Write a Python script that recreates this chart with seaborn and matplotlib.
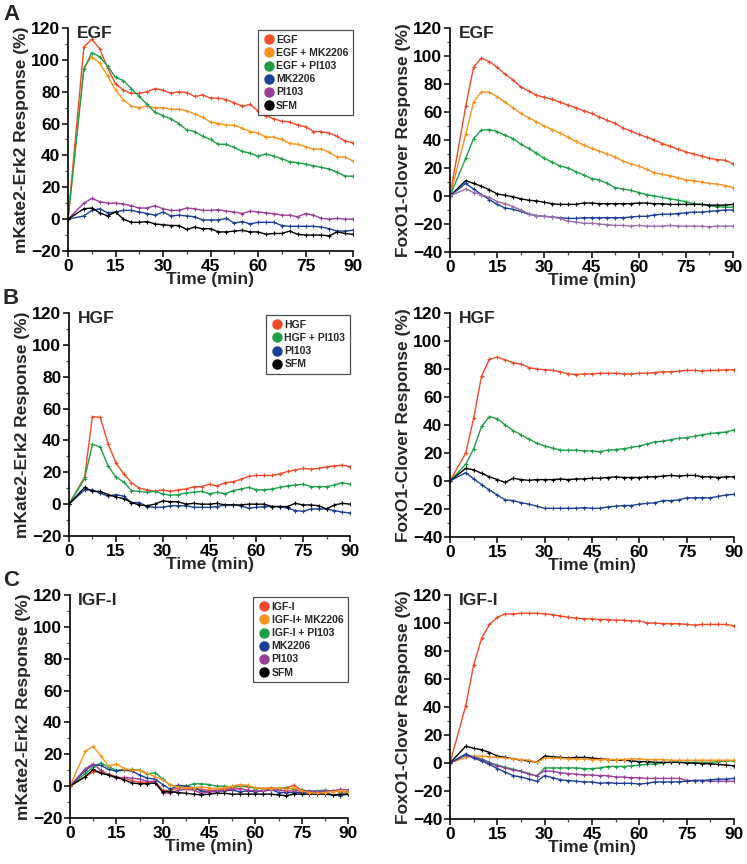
import numpy as np
import pandas as pd
import matplotlib
matplotlib.use("Agg")
import matplotlib.pyplot as plt
from matplotlib.lines import Line2D
from matplotlib.ticker import MultipleLocator
import seaborn as sns

# time points (min)
time = [0] + list(np.arange(5, 90.1, 2.5))

# ---- A: EGF ----
a_erk_egf = [0, 108, 113, 107, 95, 85, 81, 79, 79, 80, 82, 81, 79, 80, 79.5, 77, 78, 76, 76, 75, 73, 71, 72, 68,
             65, 63, 61.5, 61, 59, 58, 55, 55, 54, 52, 49, 48]
a_erk_egf_mk = [0, 95, 102, 98, 90, 81, 75, 71, 70, 71, 70, 70, 69, 69, 68, 66, 64, 61, 60, 59, 59, 57, 55, 54,
                51.5, 51.5, 50, 47.5, 47, 45.5, 44, 44, 42, 39, 39, 36.5]
a_erk_egf_pi = [0, 94, 104.5, 102, 96, 89, 87, 82, 77, 72, 67, 65, 63, 60, 56, 55, 52, 50, 47, 47, 45, 42.5, 41.5,
                39.5, 41, 39.5, 38, 36, 35.5, 34.5, 33.5, 32.5, 31.5, 29.5, 27, 27]
a_erk_mk = [0, 2, 5.5, 6.5, 4, 4.5, 5.5, 5.5, 4.5, 3.5, 2.5, 4.5, 2, 2.5, 2, 1.5, -0.5, -0.5, -0.5, 0.5, -2.5, -1.5,
            -3, -2, -2, -2, -4, -4.5, -4.5, -4.5, -4.5, -5, -6, -7.5, -7.5, -7]
a_erk_pi = [0, 10, 13, 11, 10, 10, 9.5, 8.5, 7, 7, 8.5, 6.5, 5.5, 5.5, 7, 6.5, 5.5, 5.5, 6, 5, 4.5, 3.5, 5, 4.5, 4,
            3.5, 2.5, 2.5, 1.5, 3.5, 2.5, 0.5, 0, 0.5, 0, 0]
a_erk_sfm = [0, 6.5, 7, 4, 2, 4.5, 0, -2, -2, -1.5, -3, -3.5, -4, -4, -6.5, -5, -6, -6, -8, -8, -7.5, -7, -8, -8,
             -9.5, -9, -9, -7.5, -9.5, -10, -10, -10, -10.5, -8, -9, -9.5]

a_fox_egf = [0, 64, 92, 98.5, 96, 92, 87, 83, 78, 75, 72, 70.5, 69, 67, 65, 63, 61, 59, 56.5, 54, 52, 48.5, 46.5,
             44, 42, 40, 37.5, 35.5, 33.5, 31.5, 30, 28.5, 27, 26, 25.5, 23]
a_fox_egf_mk = [0, 44, 67, 74.5, 74, 71, 67, 63, 59, 56, 53, 50, 47.5, 45, 42, 39, 36.5, 34, 32, 30, 28, 25, 23,
                21.5, 19, 16.5, 15.5, 14.5, 13, 11.5, 11, 10, 9, 8.5, 7.5, 6]
a_fox_egf_pi = [0, 27, 41, 47, 47.5, 46, 43.5, 41, 37, 34, 30.5, 27, 24, 21.5, 20, 17.5, 15, 12.5, 11.5, 9, 6, 5, 4,
                2.5, 1, 0, -1, -2, -3, -4, -5.5, -6, -7, -7.5, -8, -8]
a_fox_mk = [0, 9, 5, 1, -2.5, -6, -8.5, -9.5, -11, -13, -14, -14.5, -15, -15.5, -16, -16, -15.5, -15.5, -15.5, -15.5,
            -15.5, -15.5, -15, -14.5, -14.5, -13.5, -13, -13, -12.5, -12, -11.5, -11.5, -11, -10.5, -10, -10]
a_fox_pi = [0, 5, 2.5, 1, -1, -4, -5.5, -7.5, -10, -12.5, -14, -14.5, -15, -16, -18, -18.5, -19.5, -19.5, -20, -20.5,
            -21, -21, -21.5, -21, -21.5, -21.5, -21.5, -21, -21.5, -21.5, -21.5, -21.5, -22, -21.5, -21.5, -21.5]
a_fox_sfm = [0, 11, 9, 7, 4.5, 1.5, 0.5, -0.5, -2, -3, -3.5, -4.5, -5.5, -6, -6, -6, -5, -5, -5.5, -5.5, -5.5, -5.5,
             -5.5, -5, -5, -5.5, -5.5, -6, -6, -6, -6, -6, -6.5, -6.5, -6.5, -6]

# ---- B: HGF ----
b_erk_hgf = [0, 17, 55, 54.5, 38, 26, 19, 13.5, 10, 9, 8, 9, 8, 9, 9.5, 11, 11, 12.5, 11.5, 13.5, 14, 15.5, 17.5,
             18, 18, 18, 19, 20.5, 21.5, 22.5, 22, 22.5, 23.5, 24, 24.5, 23.5]
b_erk_hgf_pi = [0, 16, 37.5, 36, 24, 17, 14, 8.5, 8, 7.5, 8, 6.5, 5.5, 6, 7, 7.5, 8, 6.5, 7.5, 6.5, 8.5, 9.5, 10.5,
                9, 9, 9.5, 10.5, 11.5, 12, 12.5, 11, 11, 11, 12, 13.5, 12.5]
b_erk_pi = [0, 9, 9, 7, 5, 6, 5, 1, 1, -1.5, -2, -2, -1, -1, -1, -2, -2, -2, -1.5, -0.5, -0.5, -1, -2.5, -2, -1.5,
            -1.5, -1.5, -2.5, -4, -4.5, -3, -3, -3, -4, -5, -5.5]
b_erk_sfm = [0, 10.5, 8, 8, 6, 4.5, 3.5, 1, -0.5, -1, 0, 2, 1.5, 1.5, 0, 0.5, 0, 0, 0.5, -0.5, -0.5, -0.5, 0, 0, 0,
             -1.5, -1.5, -1.5, 0.5, -0.5, -0.5, -1, -3, -0.5, 0.5, 0]

b_fox_hgf = [0, 20, 45, 75, 87, 88.5, 86.5, 84.5, 83.5, 81, 80, 79.5, 79, 78, 76.5, 76, 76.5, 76.5, 77, 77, 77, 76.5,
             76.5, 77, 77, 77.5, 78, 78, 78.5, 79, 79, 78.5, 79, 79, 79.5, 79.5]
b_fox_hgf_pi = [0, 12, 23, 39, 46, 44.5, 40, 36, 33, 30, 27, 25, 23.5, 22, 22, 22, 21.5, 21.5, 21, 22, 22.5, 23, 24,
                25, 26.5, 28, 28.5, 29.5, 30.5, 31, 32, 33, 34, 34.5, 35, 36.5]
b_fox_pi = [0, 6, 1.5, -2.5, -6.5, -10, -13.5, -14, -15.5, -16.5, -18, -19.5, -19.5, -19.5, -19.5, -19.5, -19, -19.5,
            -19.5, -18.5, -18, -17.5, -17.5, -16.5, -16, -15.5, -14, -14, -13.5, -12, -12, -12, -12, -11, -10, -9.5]
b_fox_sfm = [0, 9, 8, 5.5, 3, 1, -1, 2, 1, 0.5, 1, 1, 1, 1.5, 1, 1.5, 1.5, 2, 2, 2.5, 3, 2.5, 2.5, 2.5, 3, 3, 3.5, 4,
             3.5, 4, 4, 3, 3, 2.5, 3, 3]

# ---- C: IGF-I ----
c_erk_igf = [0, 6, 9, 9, 7.5, 6, 5, 3.5, 2.5, 2.5, 3, -2.5, -3, -1, -1, -1.5, -2, -2.5, -2.5, -1.5, -1, 0, -0.5, -1,
             -1.5, -1, -1.5, -1, 0.5, -2.5, -3.5, -3.5, -3, -3, -3.5, -3.5]
c_erk_igf_mk = [0, 22, 25, 19, 12.5, 14, 11, 10, 10, 8, 6, 4, 1, -0.5, -1, -1, -0.5, -1, -1.5, -1, 0, 1, 0.5, -1,
                -1.5, -1.5, -1, -2, -1, -3, -4, -4.5, -4, -3.5, -3, -3.5]
c_erk_igf_pi = [0, 8, 12, 14.5, 12, 10, 10.5, 10.5, 10, 7.5, 8.5, 4.5, 0.5, 0, 0, 1.5, 1.5, 1, 0, 0, -0.5, 0, 0,
                -1.5, -1.5, -2, -1.5, -1, -2, -2.5, -3, -3, -2.5, -3, -3.5, -3.5]
c_erk_mk = [0, 10, 13.5, 13, 10.5, 9.5, 10, 9.5, 7, 5, 4.5, 1, -2, 0.5, 0, -1, -3, -3.5, -3, -3, -2.5, -3.5, -3,
            -3.5, -3, -2, -4, -4, -4, -4, -4, -4, -4, -5.5, -6, -5]
c_erk_pi = [0, 11, 14, 10, 7, 5, 5.5, 5, 4.5, 3, 3, -4, -4.5, -2.5, -2, -2.5, -4.5, -3.5, -3.5, -2.5, -2, -1.5,
            -2.5, -3, -3, -2.5, -2.5, -3, -3, -3, -3, -3.5, -3, -3, -2, -2.5]
c_erk_sfm = [0, 6, 10.5, 8, 7, 5.5, 4, 2, 1.5, 1.5, 2, -3.5, -3.5, -4, -4.5, -5, -5.5, -5, -4.5, -4.5, -5, -5, -5,
             -5, -5, -5, -5.5, -6, -5, -5, -5, -5, -5, -5.5, -5, -5]

c_fox_igf = [0, 41, 70, 89, 99, 104, 106.5, 106.5, 107, 107, 107, 106.5, 106, 105, 104, 103.5, 103, 103, 102.5,
             102.5, 102, 102, 101.5, 101.5, 100, 100, 99.5, 99.5, 99.5, 99, 98.5, 99, 99, 99, 99, 98]
c_fox_igf_mk = [0, 4, 5, 5, 4.5, 4, 3.5, 3, 2.5, 2, 0.5, 3.5, 3.5, 3.5, 3, 3, 3, 2.5, 2.5, 2.5, 2.5, 2.5, 3, 3, 2.5,
                2.5, 2.5, 2, 2, 2, 2, 2, 2, 2, 2, 2]
c_fox_igf_pi = [0, 6, 4.5, 3, 0.5, -1.5, -3, -4.5, -6, -7.5, -9.5, -3.5, -3.5, -3.5, -3.5, -3.5, -4, -4, -3.5,
                -2.5, -2.5, -2.5, -2, -1.5, -1, -0.5, 0, 0.5, 0.5, 0.5, 0.5, 0.5, 0.5, 1, 1.5, 1.5]
c_fox_mk = [0, 6.5, 3.5, 1.5, -1, -4, -6.5, -9, -10, -11.5, -13, -9, -10.5, -12, -12.5, -13, -13.5, -13.5, -14.5,
            -14, -14.5, -14.5, -14.5, -15, -14.5, -13.5, -13.5, -13.5, -13.5, -13, -12.5, -12.5, -12, -11.5, -11.5, -11]
c_fox_pi = [0, 5.5, 4, 2.5, 0, -2, -3.5, -5, -6, -8, -9, -5.5, -6, -7, -7.5, -8, -8.5, -8.5, -9, -9, -10, -10,
            -10.5, -10.5, -11, -11, -11, -11, -11, -12.5, -12.5, -12.5, -13, -13, -13, -13]
c_fox_sfm = [0, 12, 10.5, 9.5, 7.5, 5, 4, 3, 2, 1.5, 0.5, 5, 4.5, 4, 3.5, 4, 4, 3.5, 3, 2.5, 2, 2, 1.5, 1, 1, 0.5,
             0.5, 0.5, 0.5, 0, 0, -0.5, -0.5, -1, -1.5, -2]

RED = "#EE4B2B"
ORANGE = "#F7931E"
GREEN = "#1F9E4A"
BLUE = "#1D3F94"
PURPLE = "#9A3E9C"
MAUVE = "#9C6EAA"
BLACK = "#000000"

sns.set_style("ticks")
plt.rcParams["font.family"] = ["Liberation Sans", "DejaVu Sans"]
plt.rcParams["font.weight"] = "bold"

fig = plt.figure(figsize=(7.47, 8.64), dpi=100)

W = 747.0
H = 864.0


def make_ax(x0, x1, ytop, ybot):
    return fig.add_axes([x0 / W, 1 - ybot / H, (x1 - x0) / W, (ybot - ytop) / H])


def style(ax, ylow, ylabel, title):
    ax.set_xlim(0, 90)
    ax.set_ylim(ylow, 120)
    ax.xaxis.set_major_locator(MultipleLocator(15))
    ax.xaxis.set_minor_locator(MultipleLocator(7.5))
    ax.yaxis.set_major_locator(MultipleLocator(20))
    ax.yaxis.set_minor_locator(MultipleLocator(10))
    for s in ["top", "right"]:
        ax.spines[s].set_visible(False)
    for s in ["left", "bottom"]:
        ax.spines[s].set_linewidth(1.2)
        ax.spines[s].set_color("black")
    ax.tick_params(which="major", length=4, width=1.1, labelsize=12.5, pad=1.5, colors="black")
    ax.tick_params(which="minor", length=2.5, width=0.9, colors="#444444")
    for lab in ax.get_xticklabels() + ax.get_yticklabels():
        lab.set_fontweight("bold")
    ax.set_xlabel("Time (min)", fontsize=12.5, fontweight="bold", labelpad=-1)
    ax.set_ylabel(ylabel, fontsize=12.5, fontweight="bold", labelpad=1)
    ax.text(0.03, 0.975, title, transform=ax.transAxes, fontsize=12.5, fontweight="bold",
            va="center", ha="left")


def draw(ax, series):
    for vals, col in series:
        df = pd.DataFrame({"t": time, "v": vals})
        sns.lineplot(data=df, x="t", y="v", ax=ax, color=col, linewidth=1.0, marker="+",
                     markersize=3.5, markeredgewidth=0.8, markeredgecolor=col)


def legend(ax, labels, cols):
    handles = [Line2D([], [], linestyle="none", marker="o", markersize=6.5, color=c, markeredgecolor=c)
               for c in cols]
    leg = ax.legend(handles, labels, loc="upper right", bbox_to_anchor=(1.0, 0.99), frameon=True,
                    fancybox=False, edgecolor="#222222", prop={"weight": "bold", "size": 7.5},
                    handletextpad=0.1, labelspacing=0.3, borderpad=0.45, handlelength=1.2,
                    borderaxespad=0)
    leg.get_frame().set_linewidth(0.9)


erk_label = "mKate2-Erk2 Response (%)"
fox_label = "FoxO1-Clover Response (%)"

# A
ax = make_ax(68, 353, 28, 251)
draw(ax, [(a_erk_egf, RED), (a_erk_egf_mk, ORANGE), (a_erk_egf_pi, GREEN), (a_erk_mk, BLUE),
          (a_erk_pi, PURPLE), (a_erk_sfm, BLACK)])
style(ax, -20, erk_label, "EGF")
legend(ax, ["EGF", "EGF + MK2206", "EGF + PI103", "MK2206", "PI103", "SFM"],
       [RED, ORANGE, GREEN, BLUE, PURPLE, BLACK])

ax = make_ax(450, 733, 28, 252)
draw(ax, [(a_fox_egf, RED), (a_fox_egf_mk, ORANGE), (a_fox_egf_pi, GREEN), (a_fox_sfm, BLACK),
          (a_fox_mk, BLUE), (a_fox_pi, MAUVE)])
style(ax, -40, fox_label, "EGF")

# B
ax = make_ax(69, 350, 313, 536)
draw(ax, [(b_erk_hgf, RED), (b_erk_hgf_pi, GREEN), (b_erk_pi, BLUE), (b_erk_sfm, BLACK)])
style(ax, -20, erk_label, "HGF")
legend(ax, ["HGF", "HGF + PI103", "PI103", "SFM"], [RED, GREEN, BLUE, BLACK])

ax = make_ax(450, 734, 313, 537)
draw(ax, [(b_fox_hgf, RED), (b_fox_hgf_pi, GREEN), (b_fox_sfm, BLACK), (b_fox_pi, BLUE)])
style(ax, -40, fox_label, "HGF")

# C
ax = make_ax(70, 348, 595, 818)
draw(ax, [(c_erk_igf, RED), (c_erk_igf_pi, GREEN), (c_erk_mk, BLUE), (c_erk_pi, PURPLE),
          (c_erk_sfm, BLACK), (c_erk_igf_mk, ORANGE)])
style(ax, -20, erk_label, "IGF-I")
legend(ax, ["IGF-I", "IGF-I+ MK2206", "IGF-I + PI103", "MK2206", "PI103", "SFM"],
       [RED, ORANGE, GREEN, BLUE, PURPLE, BLACK])

ax = make_ax(450, 734, 595, 819)
draw(ax, [(c_fox_igf, RED), (c_fox_igf_pi, GREEN), (c_fox_sfm, BLACK), (c_fox_igf_mk, ORANGE),
          (c_fox_pi, PURPLE), (c_fox_mk, BLUE)])
style(ax, -40, fox_label, "IGF-I")

# panel letters
for letter, y in [("A", 14), ("B", 298), ("C", 580)]:
    fig.text(3 / W, 1 - y / H, letter, fontsize=16, fontweight="bold", va="center", ha="left")

fig.savefig("out.png", dpi=100)
